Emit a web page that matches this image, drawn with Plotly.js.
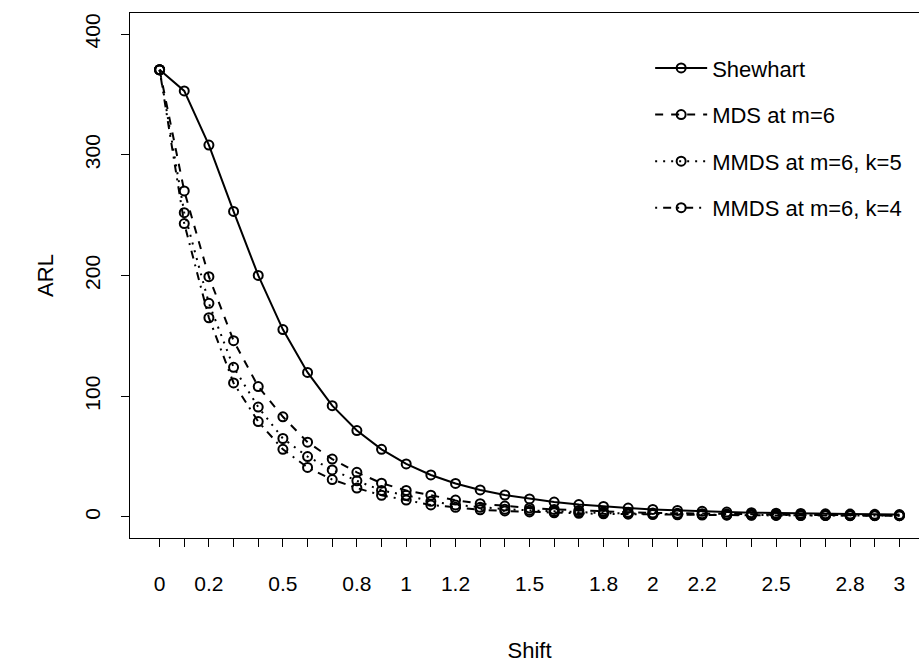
<!DOCTYPE html>
<html>
<head>
<meta charset="utf-8">
<script src="https://cdn.plot.ly/plotly-3.0.1.min.js"></script>
<style>html,body{margin:0;padding:0;overflow:hidden;background:#fff;}#chart{width:940px;height:665px;}</style>
</head>
<body>
<div id="chart"></div>
<script>
const shift = [0,0.1,0.2,0.3,0.4,0.5,0.6,0.7,0.8,0.9,1.0,1.1,1.2,1.3,1.4,1.5,1.6,1.7,1.8,1.9,2.0,2.1,2.2,2.3,2.4,2.5,2.6,2.7,2.8,2.9,3.0];
const shewhart = [370.4,352.9,308.0,253.1,200.1,155.2,119.7,92.2,71.6,56.0,43.9,34.8,27.8,22.4,18.2,15.0,12.4,10.3,8.7,7.4,6.3,5.4,4.7,4.1,3.6,3.2,2.9,2.6,2.4,2.2,2.0];
const mds6 = [370.4,270,199,146,108,83,62,48,37,28,22,18,14,11,9,7.5,6.3,5.3,4.5,3.9,3.4,3.0,2.7,2.4,2.2,2.0,1.8,1.7,1.6,1.5,1.4];
const mmds65 = [370.4,252,177,124,91,65,50,39,30,22,18,13,10,8,6.5,5.5,4.6,3.9,3.3,2.9,2.5,2.2,2.0,1.8,1.7,1.5,1.4,1.3,1.2,1.2,1.1];
const mmds64 = [370.4,243,165,111,79,56,41,31,24,18,14,10,8,6,5,4.2,3.5,3.0,2.6,2.3,2.0,1.8,1.6,1.5,1.4,1.3,1.2,1.15,1.1,1.1,1.05];
const seriesNames = ["Shewhart","MDS at m=6","MMDS at m=6, k=5","MMDS at m=6, k=4"];
const xTickVals = shift;
const xTickText = ["0","","0.2","","","0.5","","","0.8","","1","","1.2","","","1.5","","","1.8","","2","","2.2","","","2.5","","","2.8","","3"];
const yTickVals = [0,100,200,300,400];

const series = [shewhart, mds6, mmds65, mmds64];
const dashes = ["solid","8px,8px","2px,6px","2px,6px,8px,6px"];
const traces = series.map((s,i)=>({
  x: shift, y: s, name: seriesNames[i], type:"scatter", mode:"lines+markers",
  legendgroup: "g"+i,
  line:{color:"#000", width:2, dash:dashes[i]},
  marker:{symbol:"circle-open", size:9, color:"#000", line:{width:2, color:"#000"}},
  cliponaxis:false
}));

const fam = "Liberation Sans, Arial, sans-serif";
const layout = {
  width:940, height:665,
  margin:{l:130, r:11, t:13, b:127},
  paper_bgcolor:"#fff", plot_bgcolor:"#fff",
  font: {family:fam, size:22, color:"#000"},
  showlegend:true,
  legend:{x:0.651, y:0.935, xanchor:"left", yanchor:"top", bgcolor:"rgba(0,0,0,0)",
    font:{family:fam,size:22,color:"#000"}, tracegroupgap:15, itemwidth:52},
  xaxis:{range:[-0.12,3.12], tickvals:xTickVals, ticktext:xTickText, ticks:"outside", ticklen:8, tickwidth:1, tickcolor:"#000",
    showgrid:false, zeroline:false, showline:true, linecolor:"#000", linewidth:1, mirror:true,
    ticklabelstandoff:19, tickfont:{family:fam,size:21,color:"#000"},
    title:{text:"Shift", font:{family:fam,size:22,color:"#000"}, standoff:48}},
  yaxis:{range:[-17.4,417.4], tickvals:yTickVals, ticks:"outside", ticklen:8, tickwidth:1, tickcolor:"#000",
    showgrid:false, zeroline:false, showline:true, linecolor:"#000", linewidth:1, mirror:true,
    tickangle:-90, ticklabelstandoff:13, tickfont:{family:fam,size:21,color:"#000"},
    title:{text:"ARL", font:{family:fam,size:22,color:"#000"}, standoff:20}}
};
Plotly.newPlot("chart", traces, layout, {displayModeBar:false, staticPlot:true});
</script>
</body>
</html>
